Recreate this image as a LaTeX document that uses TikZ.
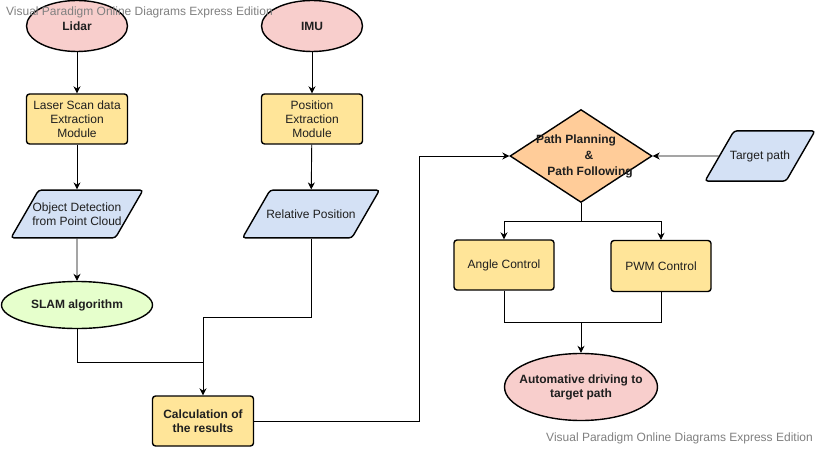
\documentclass[tikz,border=0pt]{standalone}
\usepackage{fontspec}
\setmainfont{Liberation Sans}
\usetikzlibrary{shapes.geometric,arrows.meta}
\definecolor{pinkf}{HTML}{F8CECC}
\definecolor{yelf}{HTML}{FFE599}
\definecolor{bluf}{HTML}{D4E1F5}
\definecolor{grnf}{HTML}{E6FFCC}
\definecolor{oraf}{HTML}{FFCC99}
\definecolor{wmark}{HTML}{808080}
\begin{document}
\begin{tikzpicture}[x=1pt,y=-1pt,
  base/.style={draw=black, line width=1.4pt, inner sep=0pt, align=center, text=black!88, font=\fontsize{12}{14}\selectfont},
  ell/.style={base, ellipse, fill=pinkf, font=\fontsize{12}{14}\selectfont\bfseries},
  box/.style={base, rectangle, rounded corners=3pt, fill=yelf, minimum width=101pt, minimum height=50pt},
  io/.style={base, trapezium, trapezium left angle=60, trapezium right angle=120, trapezium stretches body=true, fill=bluf, rounded corners=3pt, inner xsep=-14pt},
  dec/.style={base, diamond, fill=oraf, minimum width=142pt, minimum height=93pt},
  conn/.style={line width=0.9pt, draw=black},
  arr/.style={conn, -{Stealth[length=7pt,width=7pt]}},
  wm/.style={text=wmark, font=\fontsize{12}{14}\selectfont, inner sep=0pt}
]
\useasboundingbox (0,0) rectangle (818,449);
\fill[white] (0,0) rectangle (818,449);

% nodes
\node[ell, minimum width=101pt, minimum height=51pt] (lidar) at (77,26) {Lidar};
\node[ell, minimum width=101pt, minimum height=51pt] (imu) at (312,26) {IMU};
\node[box] (laser) at (77,119) {Laser Scan data\\Extraction\\Module};
\node[box] (posx) at (312,119) {Position\\Extraction\\Module};
\node[io, inner ysep=12.5pt, minimum width=132pt] (obj) at (77,214) {Object Detection\\from Point Cloud};
\node[io, inner ysep=19.5pt, minimum width=137pt] (rel) at (311,214) {Relative Position};
\node[ell, fill=grnf, minimum width=151pt, minimum height=47pt] (slam) at (77,305) {SLAM algorithm};
\node[box, font=\fontsize{12}{14}\selectfont\bfseries] (calc) at (203,421) {Calculation of\\the results};
\node[dec] (pp) at (581,156) {};
\node[align=center, inner sep=0pt, text=black!88, font=\fontsize{12}{16}\selectfont\bfseries] (pptext) at (583,156) {Path Planning\hspace*{14pt}\\\hspace*{12pt}\&\\\hspace*{14pt}Path Following};
\node[io, inner ysep=19.5pt, minimum width=110pt] (tgt) at (760,156) {Target path};
\node[box, minimum width=100pt] (ang) at (504,265) {Angle Control};
\node[box, minimum width=100pt, minimum height=51pt] (pwm) at (661,266) {PWM Control};
\node[ell, inner xsep=-8pt, inner ysep=0pt, minimum width=153pt, minimum height=67pt] (auto) at (581,387) {Automative driving to\\target path};

% junction coordinates
\coordinate (j1) at (203,362);
\coordinate (j2) at (203,317);
\coordinate (c1) at (419,156);
\coordinate (sp) at (581,221);
\coordinate (jn) at (581,322);

% connectors
\draw[arr] (lidar) -- (laser);
\draw[arr] (imu) -- (posx);
\draw[arr] (laser) -- (obj);
\draw[arr] (posx) -- (rel);
\draw[arr] (obj.south) -- (slam.north);
\draw[conn] (slam.south) |- (j1);
\draw[arr] (rel.south) |- (j2) -- (calc.north);
\draw[arr] (calc.east) -| (c1) -- (pp.west);
\draw[arr] (tgt.west) -- (pp.east);
\draw[conn] (pp.south) -- (sp);
\draw[arr] (sp) -| (ang.north);
\draw[arr] (sp) -| (pwm.north);
\draw[conn] (ang.south) |- (jn);
\draw[conn] (pwm.south) |- (jn);
\draw[arr] (jn) -- (auto.north);

% watermarks
\node[wm, anchor=west] (wm1) at (6,12) {Visual Paradigm Online Diagrams Express Edition};
\node[wm, anchor=east] (wm2) at (813,438) {Visual Paradigm Online Diagrams Express Edition};
\end{tikzpicture}
\end{document}
